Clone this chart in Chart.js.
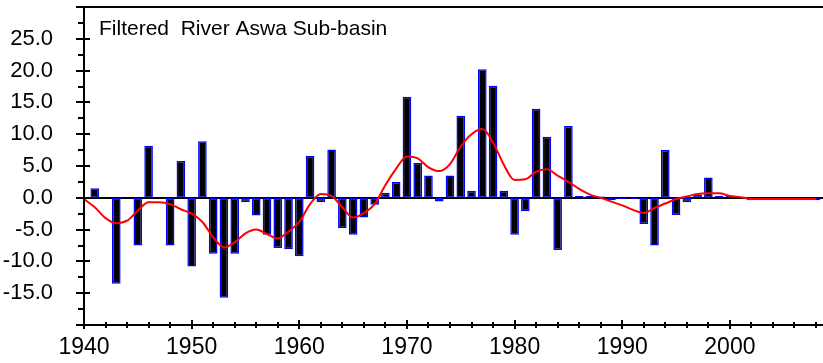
<!DOCTYPE html>
<html>
<head>
<meta charset="utf-8">
<script src="https://cdn.jsdelivr.net/npm/chart.js@4.4.0/dist/chart.umd.min.js"></script>
<style>
  html, body { margin: 0; padding: 0; background: #fff; }
  #wrap { width: 823px; height: 363px; }
</style>
</head>
<body>
<div id="wrap"><canvas id="riverChart"></canvas></div>
<script>
const chartTitle = 'Filtered  River Aswa Sub-basin';

const years = [
  1940, 1941, 1942, 1943, 1944, 1945, 1946, 1947, 1948, 1949,
  1950, 1951, 1952, 1953, 1954, 1955, 1956, 1957, 1958, 1959,
  1960, 1961, 1962, 1963, 1964, 1965, 1966, 1967, 1968, 1969,
  1970, 1971, 1972, 1973, 1974, 1975, 1976, 1977, 1978, 1979,
  1980, 1981, 1982, 1983, 1984, 1985, 1986, 1987, 1988, 1989,
  1990, 1991, 1992, 1993, 1994, 1995, 1996, 1997, 1998, 1999,
  2000, 2001, 2002, 2003, 2004, 2005, 2006, 2007, 2008
];

// yearly anomaly (bars)
const anomaly = [
  0, 1.5, 0, -13.5, 0, -7.5, 8.2, 0, -7.5, 5.8,
  -10.8, 8.9, -8.8, -15.7, -8.8, -0.7, -2.8, -5.8, -7.9, -8.1,
  -9.2, 6.6, -0.7, 7.6, -4.8, -5.8, -3.1, -1.1, 0.8, 2.5,
  15.9, 5.5, 3.5, -0.6, 3.5, 12.9, 1.1, 20.2, 17.6, 1.1,
  -5.8, -2.1, 14.0, 9.6, -8.2, 11.3, 0.3, 0.3, 0.2, -0.4,
  -0.2, -0.2, -4.1, -7.5, 7.5, -2.7, -0.7, 0.5, 3.2, 0.3,
  0.3, 0, -0.4, -0.4, -0.4, -0.4, -0.4, -0.4, -0.4
];

// filtered series (red line)
const filtered = [
  -0.2, -1.5, -3.2, -4.0, -3.6, -2.0, -0.7, -0.7, -1.0, -1.8,
  -2.5, -3.8, -6.2, -7.8, -7.0, -5.6, -5.0, -5.7, -6.4, -5.3,
  -3.8, -1.0, 0.6, 0.3, -1.5, -3.1, -2.4, -1.0, 2.0, 4.6,
  6.5, 6.2, 4.8, 4.2, 5.3, 8.1, 10.0, 10.8, 8.7, 5.2,
  2.8, 2.9, 4.1, 4.5, 3.5, 2.5, 1.4, 0.5, 0.0, -0.6,
  -1.2, -1.9, -2.4, -1.6, -0.9, -0.2, 0.2, 0.6, 0.7, 0.7,
  0.3, 0.1, -0.2, -0.2, -0.2, -0.2, -0.2, -0.2, -0.2
];

const xTickValues = [
  1940, 1942, 1944, 1946, 1948, 1950, 1952, 1954, 1956, 1958,
  1960, 1962, 1964, 1966, 1968, 1970, 1972, 1974, 1976, 1978,
  1980, 1982, 1984, 1986, 1988, 1990, 1992, 1994, 1996, 1998,
  2000, 2002, 2004, 2006, 2008
];
const xLabelYears = [1940, 1950, 1960, 1970, 1980, 1990, 2000];

const yTickValues = [
  -20, -17.5, -15, -12.5, -10, -7.5, -5, -2.5, 0, 2.5,
  5, 7.5, 10, 12.5, 15, 17.5, 20, 22.5, 25, 27.5, 30
];
const yLabelValues = [-15, -10, -5, 0, 5, 10, 15, 20, 25];

const barPoints = years.map((yr, i) => ({ x: yr, y: anomaly[i] }));
const linePoints = years.map((yr, i) => ({ x: yr, y: filtered[i] }));

// zero line, axis frame, crossing tick marks and the inner title
const framePlugin = {
  id: 'frame',
  beforeDatasetsDraw(chart) {
    const { ctx, chartArea: area, scales: { y } } = chart;
    const y0 = Math.round(y.getPixelForValue(0));
    ctx.save();
    ctx.strokeStyle = '#000';
    ctx.lineWidth = 2;
    ctx.beginPath();
    ctx.moveTo(area.left, y0);
    ctx.lineTo(area.right, y0);
    ctx.stroke();
    ctx.restore();
  },
  afterDatasetsDraw(chart) {
    const { ctx, chartArea: area, scales: { x, y } } = chart;
    const left = Math.round(area.left);
    const bottom = Math.round(area.bottom);
    const top = Math.round(area.top);
    ctx.save();
    ctx.strokeStyle = '#000';
    ctx.lineWidth = 2;
    ctx.beginPath();
    ctx.moveTo(area.right, top);
    ctx.lineTo(left, top);
    ctx.lineTo(left, bottom);
    ctx.lineTo(area.right, bottom);
    ctx.stroke();

    ctx.beginPath();
    xTickValues.forEach(v => {
      const px = Math.round(x.getPixelForValue(v));
      const major = xLabelYears.includes(v);
      ctx.moveTo(px, bottom - (major ? 5 : 3));
      ctx.lineTo(px, bottom + (major ? 4 : 3));
    });
    yTickValues.forEach(v => {
      const py = Math.round(y.getPixelForValue(v));
      const major = v % 5 === 0;
      ctx.moveTo(left - (major ? 8 : 6), py);
      ctx.lineTo(left + (major ? 6 : 0), py);
    });
    ctx.stroke();

    ctx.fillStyle = '#000';
    ctx.font = '21px "Liberation Sans", Arial, sans-serif';
    ctx.textAlign = 'left';
    ctx.textBaseline = 'alphabetic';
    ctx.fillText(chartTitle, left + 15, top + 28);
    ctx.restore();
  }
};

new Chart(document.getElementById('riverChart'), {
  type: 'bar',
  data: {
    datasets: [
      {
        type: 'line',
        label: 'Filtered',
        data: linePoints,
        borderColor: '#ff0000',
        borderWidth: 2,
        pointRadius: 0,
        fill: false,
        cubicInterpolationMode: 'monotone',
        order: 0
      },
      {
        label: 'Anomaly',
        data: barPoints,
        backgroundColor: '#000000',
        borderColor: '#0000ff',
        borderWidth: 1.5,
        borderSkipped: false,
        categoryPercentage: 1,
        barPercentage: 0.8,
        order: 1
      }
    ]
  },
  options: {
    responsive: true,
    maintainAspectRatio: false,
    animation: false,
    layout: { padding: { top: 7, right: 0, left: 0, bottom: 0 } },
    scales: {
      x: {
        type: 'linear',
        min: 1940,
        max: 2008.65,
        offset: false,
        grid: { display: false, drawTicks: true, tickLength: 9 },
        border: { display: false },
        afterBuildTicks: s => { s.ticks = xTickValues.map(v => ({ value: v })); },
        afterFit: s => { s.height = 38; s.paddingLeft = 0; s.paddingRight = 0; },
        ticks: {
          autoSkip: false,
          maxRotation: 0,
          padding: 0,
          color: '#000',
          font: { family: '"Liberation Sans", Arial, sans-serif', size: 23 },
          callback: v => xLabelYears.includes(v) ? String(v) : null
        }
      },
      y: {
        min: -20,
        max: 30,
        grid: { display: false, drawTicks: true, tickLength: 31 },
        border: { display: false },
        afterBuildTicks: s => { s.ticks = yTickValues.map(v => ({ value: v })); },
        afterFit: s => { s.width = 84; s.paddingTop = 0; s.paddingBottom = 0; },
        ticks: {
          autoSkip: false,
          padding: 0,
          color: '#000',
          font: { family: '"Liberation Sans", Arial, sans-serif', size: 22 },
          callback: v => yLabelValues.includes(v) ? v.toFixed(1) : null
        }
      }
    },
    plugins: {
      legend: { display: false },
      tooltip: { enabled: false }
    }
  },
  plugins: [framePlugin]
});
</script>
</body>
</html>
